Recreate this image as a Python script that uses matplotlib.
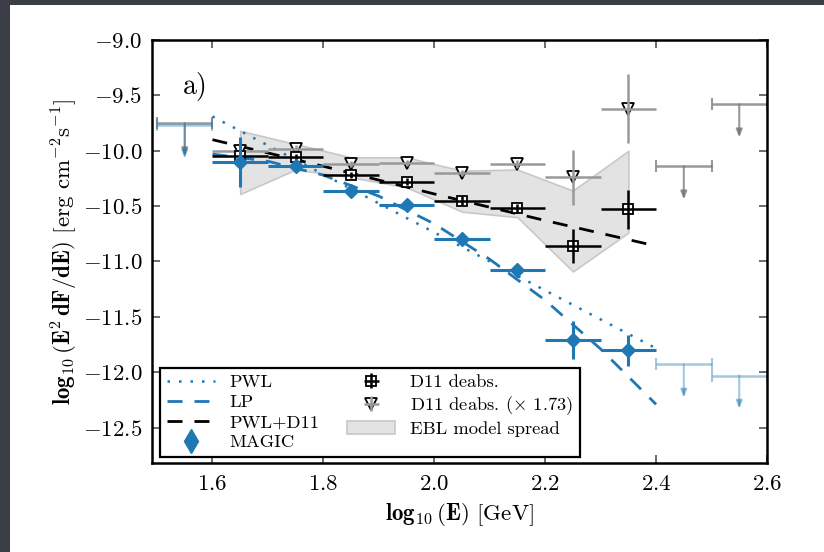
import matplotlib
matplotlib.use('Agg')
import matplotlib.pyplot as plt
from matplotlib.patches import Rectangle
from matplotlib.lines import Line2D
from matplotlib.legend_handler import HandlerErrorbar, HandlerTuple
from matplotlib.container import ErrorbarContainer

plt.rcParams['font.family'] = 'serif'
plt.rcParams['font.serif'] = ['cmr10', 'DejaVu Serif']
plt.rcParams['mathtext.fontset'] = 'cm'
plt.rcParams['axes.formatter.use_mathtext'] = True

# energy bins (log10 E / GeV), width 0.1
bin_x = [1.65, 1.75, 1.85, 1.95, 2.05, 2.15, 2.25, 2.35]
half_bin = 0.05

# MAGIC points
magic_y = [-10.10, -10.14, -10.36, -10.49, -10.80, -11.08, -11.71, -11.80]
magic_lo = [0.23, 0.02, 0.02, 0.02, 0.03, 0.03, 0.17, 0.14]
magic_hi = [0.22, 0.02, 0.02, 0.02, 0.03, 0.03, 0.17, 0.14]

# D11 deabsorbed
d11_y = [-10.05, -10.06, -10.22, -10.28, -10.45, -10.52, -10.86, -10.53]
d11_err = [0.03, 0.03, 0.03, 0.03, 0.04, 0.04, 0.15, 0.18]

# D11 deabsorbed x 1.73
tri_y = [-10.00, -9.98, -10.12, -10.11, -10.20, -10.12, -10.24, -9.62]
tri_err = [0.03, 0.03, 0.03, 0.03, 0.03, 0.04, 0.25, 0.31]

# EBL model spread
ebl_hi = [-9.82, -9.94, -10.06, -10.06, -10.18, -10.17, -10.36, -10.00]
ebl_lo = [-10.39, -10.17, -10.24, -10.33, -10.55, -10.60, -11.09, -10.74]

# upper limits
ul_gray_x = [1.55, 2.45, 2.55]
ul_gray_y = [-9.75, -10.14, -9.58]
ul_blue_x = [1.55, 2.45, 2.55]
ul_blue_y = [-9.77, -11.93, -12.03]
ul_len = 0.3

# model curves
pwl_x = [1.6, 2.4]
pwl_y = [-9.69, -11.785]
lp_x = [1.6, 1.7, 1.8, 1.9, 2.0, 2.1, 2.2, 2.3, 2.4]
lp_y = [-10.03, -10.095, -10.22, -10.41, -10.66, -10.98, -11.35, -11.79, -12.29]
pwld11_x = [1.6, 1.8, 2.0, 2.2, 2.4]
pwld11_y = [-9.90, -10.14, -10.39, -10.63, -10.86]

blue = '#1f77b4'

fig = plt.figure(figsize=(8.24, 5.52), dpi=100)
fig.patch.set_facecolor('#3b3e47')
fig.add_artist(Rectangle((10 / 824, 0), 1, 1 - 5 / 552, transform=fig.transFigure,
                         facecolor='white', edgecolor='none', zorder=-10))
ax = fig.add_axes([0.1845, 0.1612, 0.7463, 0.7663])

band = ax.fill_between(bin_x, ebl_lo, ebl_hi, facecolor='#e3e3e3', edgecolor='#c8c8c8',
                       linewidth=1.2, zorder=1)

l_pwl, = ax.plot(pwl_x, pwl_y, color=blue, lw=1.8, ls=(0, (1, 3.6)), zorder=3)
l_lp, = ax.plot(lp_x, lp_y, color=blue, lw=2, ls=(0, (5.4, 4.3)), zorder=3)
l_d11, = ax.plot(pwld11_x, pwld11_y, color='black', lw=2, ls=(0, (5.4, 4.3)), zorder=3)

# upper limits
for xs, ys, col, a in [(ul_gray_x, ul_gray_y, '#777777', 0.75), (ul_blue_x, ul_blue_y, blue, 0.4)]:
    ax.errorbar(xs, ys, xerr=half_bin, fmt='none', ecolor=col, alpha=a, elinewidth=1.8,
                capsize=4, capthick=1.5, zorder=2)
    for x, y in zip(xs, ys):
        ax.annotate('', xy=(x, y - ul_len), xytext=(x, y),
                    arrowprops=dict(arrowstyle='-|>,head_length=0.45,head_width=0.18',
                                    color=col, alpha=a, lw=1.5, shrinkA=0, shrinkB=0))

# D11 x 1.73 (triangles), error lines drawn over the markers
tri_m, = ax.plot(bin_x, tri_y, 'v', ms=8.5, mfc='white', mec='black', mew=1.3, zorder=4)
tri_e = ax.errorbar(bin_x, tri_y, xerr=half_bin, yerr=tri_err, fmt='none',
                    ecolor='#999999', elinewidth=1.8, capsize=0, zorder=4.2)

# D11 deabsorbed (squares)
sq_m, = ax.plot(bin_x, d11_y, 's', ms=7, mfc='white', mec='black', mew=1.3, zorder=5)
sq_e = ax.errorbar(bin_x, d11_y, xerr=half_bin, yerr=d11_err, fmt='none',
                   ecolor='black', elinewidth=1.8, capsize=0, zorder=5.2)

ax.errorbar(bin_x, magic_y, xerr=half_bin, yerr=[magic_lo, magic_hi], fmt='D', ms=7.5,
            color=blue, ecolor=blue, elinewidth=2.2, capsize=0, zorder=6)
magic_h = Line2D([], [], marker='d', ms=12, color=blue, ls='none')

ax.text(0.05, 0.89, 'a)', transform=ax.transAxes, fontsize=20, va='center', ha='left')

ax.set_xlim(1.491, 2.6)
ax.set_ylim(-12.82, -9.0)
ax.set_xticks([1.6, 1.8, 2.0, 2.2, 2.4, 2.6])
ax.set_yticks([-9.0, -9.5, -10.0, -10.5, -11.0, -11.5, -12.0, -12.5])
ax.xaxis.set_major_formatter(matplotlib.ticker.FormatStrFormatter('$%.1f$'))
ax.yaxis.set_major_formatter(matplotlib.ticker.FormatStrFormatter('$%.1f$'))
ax.tick_params(direction='in', length=6, width=1.1, top=True, right=True,
               labelsize=16.5, color='#444444')
ax.tick_params(axis='x', pad=8)
ax.tick_params(axis='y', pad=7)
for s in ax.spines.values():
    s.set_linewidth(1.8)

ax.set_xlabel(r'$\mathbf{log_{10}}\,(\mathbf{E})$ [GeV]', fontsize=16.5, labelpad=5)
ax.set_ylabel(r'$\mathbf{log_{10}}\,(\mathbf{E^2\,dF/dE})$ [erg cm$^{-2}$s$^{-1}$]',
              fontsize=16.5, labelpad=3)

leg = ax.legend([l_pwl, l_lp, l_d11, magic_h, (sq_m, sq_e), (tri_m, tri_e), band],
                ['PWL', 'LP', 'PWL+D11', 'MAGIC', 'D11 deabs.', 'D11 deabs. ($\\times$ 1.73)',
                 'EBL model spread'],
                handler_map={ErrorbarContainer: HandlerErrorbar(xerr_size=0.4, yerr_size=0.4),
                             tuple: HandlerTuple(ndivide=1)},
                ncol=2, loc='lower left', bbox_to_anchor=(0.0135, 0.015), borderaxespad=0,
                fancybox=False, edgecolor='black', fontsize=13.3, handlelength=2.6,
                handletextpad=0.8, columnspacing=1.5, labelspacing=0.22, borderpad=0.35,
                framealpha=1)
leg.get_frame().set_linewidth(1.6)

fig.savefig('out.png', dpi=100, facecolor=fig.get_facecolor())
